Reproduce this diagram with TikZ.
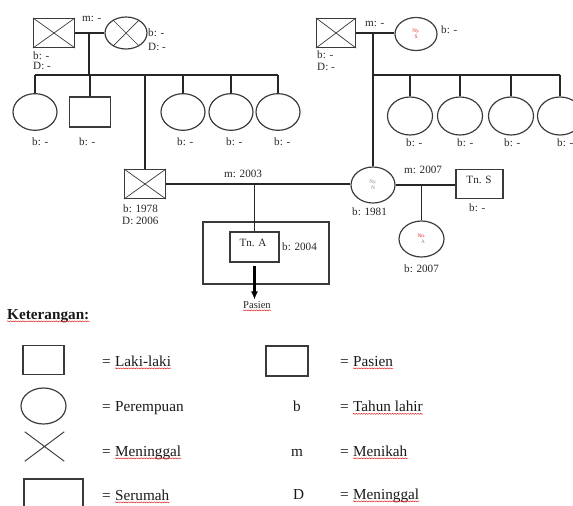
\documentclass[tikz,border=0pt]{standalone}
\usepackage{fontspec}
\setmainfont{Liberation Serif}
\usetikzlibrary{arrows.meta,calc,positioning,shapes.geometric,decorations.pathmorphing}
\definecolor{lineink}{HTML}{3A3A3A}
\definecolor{spellred}{HTML}{E02020}
\tikzset{
  male/.style={draw=lineink,line width=1pt,minimum width=1.23cm,minimum height=0.87cm,inner sep=0pt},
  female/.style={ellipse,draw=lineink,line width=1pt,minimum width=1.32cm,minimum height=1.1cm,inner sep=0pt},
  link/.style={black!85,line width=0.9pt},
  xmark/.style={lineink,line width=0.6pt},
  house/.style={draw=lineink,line width=1.1pt,minimum width=3.78cm,minimum height=1.86cm,inner sep=0pt},
  lbl/.style={font=\fontsize{9.5}{11}\selectfont,text=black!85,inner sep=0pt,anchor=base west},
  inname/.style={font=\fontsize{4.5}{5}\selectfont,text=gray,align=center},
  legtext/.style={font=\fontsize{13}{15}\selectfont,text=black!90,inner sep=0pt,anchor=base west},
  spell/.style={spellred,line width=0.4pt,decorate,decoration={snake,amplitude=0.45pt,segment length=2.2pt}},
  patarrow/.style={-{Latex[length=7pt,width=6pt]},line width=2pt,black}
}
\newcommand{\spellmark}[1]{\draw[spell] ([yshift=-2pt]#1.base west) -- ([yshift=-2pt]#1.base east);}
\newcommand{\crossbox}[1]{\draw[xmark] (#1.north west) -- (#1.south east) (#1.south west) -- (#1.north east);}

\begin{document}
\begin{tikzpicture}[x=0.03cm,y=-0.03cm]
\useasboundingbox (0,0) rectangle (573,505);

% grandparents (father side)
\node[male] (gfa) at (54,33) {};
\node[female,minimum width=1.26cm,minimum height=0.96cm] (gma) at (126,33) {};
\crossbox{gfa}
\draw[xmark] (gma.135) -- (gma.-45) (gma.45) -- (gma.-135);
\node[lbl] (gfam) at (82,21) {m: -};
\node[lbl] (gmab) at (148,36) {b: -};
\node[lbl] (gmad) at (148,50) {D: -};
\node[lbl] (gfab) at (33,59) {b: -};
\node[lbl] (gfad) at (33,69) {D: -};
\coordinate (mja) at (89,33);
\coordinate (sja) at (89,75);
\draw[link] (gfa.east) -- (gma.west);
\draw[link] (mja) -- (sja);

\node[female] (ca1) at (35,112) {};
\node[male,minimum height=0.9cm] (ca2) at (90,112) {};
\node[female] (ca3) at (183,112) {};
\node[female] (ca4) at (231,112) {};
\node[female] (ca5) at (278,112) {};
\draw[link] (ca1 |- sja) -- (ca5 |- sja);
\foreach \c in {ca1,ca2,ca3,ca4,ca5}
  \draw[link] (\c.north) -- (\c |- sja);
\node[lbl] (cab1) at (32,145) {b: -};
\node[lbl] (cab2) at (79,145) {b: -};
\node[lbl] (cab3) at (177,145) {b: -};
\node[lbl] (cab4) at (226,145) {b: -};
\node[lbl] (cab5) at (274,145) {b: -};

% grandparents (mother side)
\node[male,minimum width=1.17cm] (gfb) at (336,33) {};
\node[female,minimum width=1.26cm,minimum height=0.99cm,inname,text=spellred] (gmb) at (416,34) {Ny.\\S};
\crossbox{gfb}
\node[lbl] (gfbm) at (365,26) {m: -};
\node[lbl] (gmbb) at (441,33) {b: -};
\node[lbl] (gfbb) at (317,58) {b: -};
\node[lbl] (gfbd) at (317,70) {D: -};
\coordinate (mjb) at (373,33);
\coordinate (sjb) at (373,75);
\draw[link] (gfb.east) -- (gfb.east -| gmb.west);

\node[female,minimum width=1.35cm,minimum height=1.14cm] (cb1) at (410,116) {};
\node[female,minimum width=1.35cm,minimum height=1.14cm] (cb2) at (460,116) {};
\node[female,minimum width=1.35cm,minimum height=1.14cm] (cb3) at (511,116) {};
\node[female,minimum width=1.35cm,minimum height=1.14cm] (cb4) at (560,116) {};
\draw[link] (sjb) -- (cb4 |- sjb);
\foreach \c in {cb1,cb2,cb3,cb4}
  \draw[link] (\c.north) -- (\c |- sjb);
\node[lbl] (cbb1) at (406,146) {b: -};
\node[lbl] (cbb2) at (457,146) {b: -};
\node[lbl] (cbb3) at (504,146) {b: -};
\node[lbl] (cbb4) at (557,146) {b: -};

% parents
\node[male] (fa) at (145,184) {};
\crossbox{fa}
\draw[link] (fa.north) -- (fa |- sja);
\node[lbl] (fab) at (123,212) {b: 1978};
\node[lbl] (fad) at (122,224) {D: 2006};
\node[female,minimum width=1.32cm,minimum height=1.08cm,inname] (mo) at (373,185) {Ny.\\N};
\draw[link] (mjb) -- (mo.north);
\node[lbl] (mob) at (352,215) {b: 1981};
\draw[link] (fa.east) -- (fa.east -| mo.west);
\node[lbl] (fam) at (224,177) {m: 2003};

% patient and household
\node[house] (hh) at (266,253) {};
\node[male,minimum width=1.47cm,minimum height=0.9cm] (pa) at (254.5,247) {};
\node[lbl,anchor=base] (paname) at (253,246) {Tn. A};
\node[lbl] (pab) at (282,250) {b: 2004};
\draw[link] (pa.north) -- (pa.north |- fa.east);
\node[lbl,font=\fontsize{9}{10}\selectfont] (ptxt) at (243,308) {Pasien};
\spellmark{ptxt}
\draw[patarrow,shorten >=1pt] ([yshift=-3pt]pa.south) -- (pa.south |- ptxt.north);

% second marriage of mother
\node[male,minimum width=1.41cm] (ts) at (479.5,184) {};
\node[lbl,anchor=base] (tsname) at (479,183) {Tn. S};
\node[lbl] (tsb) at (469,211) {b: -};
\draw[link] (mo.east) -- (mo.east -| ts.west);
\node[lbl] (tsm) at (404,173) {m: 2007};
\node[female,minimum width=1.35cm,minimum height=1.08cm,inname] (hs) at (421.5,239) {\textcolor{spellred}{Nn.}\\. A};
\draw[link] (hs.north) -- (hs.north |- mo.east);
\node[lbl] (hsb) at (404,272) {b: 2007};

% legend
\node[legtext] (ket) at (7,319) {\bfseries Keterangan:};
\spellmark{ket}

\node[male] (lgm) at (43.5,360) {};
\node[female,minimum width=1.35cm,minimum height=1.08cm] (lgf) at (43.5,406) {};
\node[minimum width=1.17cm,minimum height=0.87cm,inner sep=0pt] (lgx) at (44.5,446.5) {};
\draw[xmark,line width=0.8pt] (lgx.north west) -- (lgx.south east) (lgx.south west) -- (lgx.north east);
\node[draw=lineink,line width=1pt,minimum width=1.77cm,minimum height=0.9cm,inner sep=0pt] (lgh) at (53.5,494) {};

\node[legtext] (eq1) at (102,366) {=};
\node[legtext] (w1) at ([xshift=3.3pt]eq1.base east) {Laki-laki};
\node[legtext] (eq2) at (102,411) {=};
\node[legtext] (w2) at ([xshift=3.3pt]eq2.base east) {Perempuan};
\node[legtext] (eq3) at (102,456) {=};
\node[legtext] (w3) at ([xshift=3.3pt]eq3.base east) {Meninggal};
\node[legtext] (eq4) at (102,500) {=};
\node[legtext] (w4) at ([xshift=3.3pt]eq4.base east) {Serumah};
\spellmark{w1}
\spellmark{w3}
\spellmark{w4}

\node[male,line width=1.1pt,minimum width=1.26cm,minimum height=0.9cm] (lgp) at (287,361) {};
\node[legtext] (kb) at (293,411.5) {b};
\node[legtext] (km) at (291,456) {m};
\node[legtext] (kd) at (293,499) {D};
\node[legtext] (eq5) at (340,366) {=};
\node[legtext] (w5) at ([xshift=3.3pt]eq5.base east) {Pasien};
\node[legtext] (eq6) at (340,411.5) {=};
\node[legtext] (w6) at ([xshift=3.3pt]eq6.base east) {Tahun lahir};
\node[legtext] (eq7) at (340,456) {=};
\node[legtext] (w7) at ([xshift=3.3pt]eq7.base east) {Menikah};
\node[legtext] (eq8) at (340,499) {=};
\node[legtext] (w8) at ([xshift=3.3pt]eq8.base east) {Meninggal};
\spellmark{w5}
\spellmark{w6}
\spellmark{w7}
\spellmark{w8}
\end{tikzpicture}
\end{document}
